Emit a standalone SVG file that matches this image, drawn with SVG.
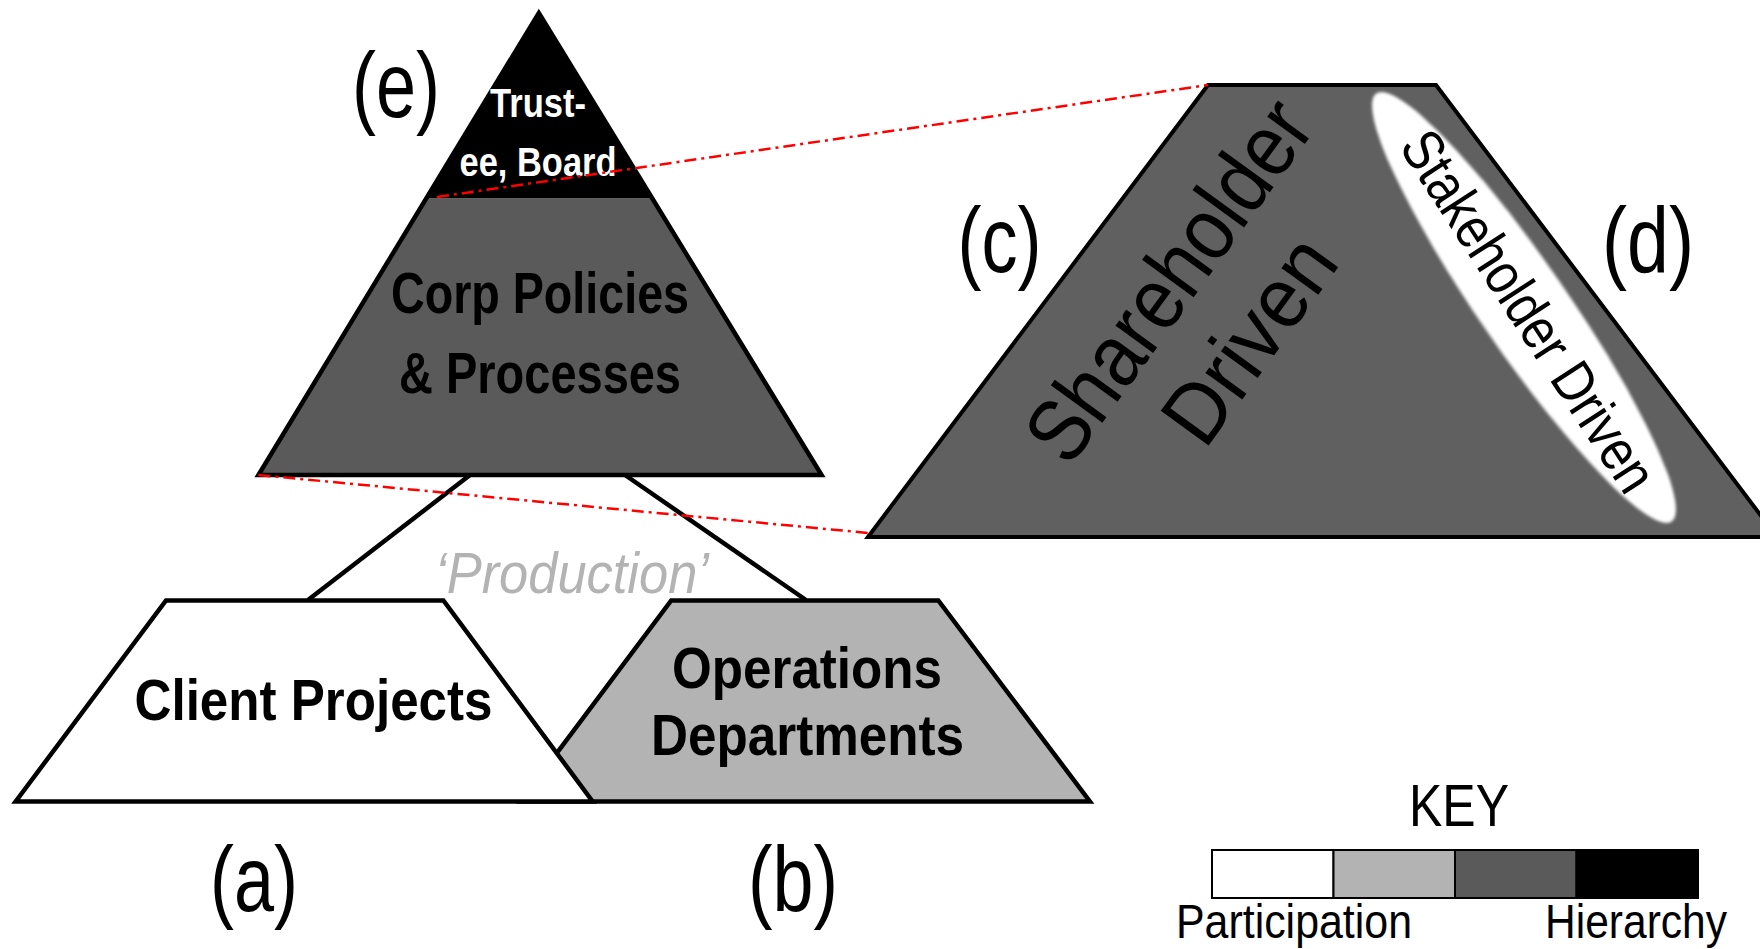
<svg xmlns="http://www.w3.org/2000/svg" width="1760" height="949" viewBox="0 0 1760 949">
<defs>
<style>
.t{font-family:'Liberation Sans Narrow','Liberation Sans',Arial,sans-serif;fill:#000}
.lab{font-size:92px;text-anchor:middle}
.b{font-weight:bold;text-anchor:middle}
.edge{stroke:#000;stroke-width:4.5;stroke-linejoin:miter}
.conn{stroke:#000;stroke-width:4.5;fill:none}
.red{stroke:#ff0000;stroke-width:2.5;fill:none;stroke-dasharray:12 5 3 5}
.keycell{stroke:#000;stroke-width:2}
</style>
<filter id="soft" x="-10%" y="-10%" width="120%" height="120%"><feGaussianBlur stdDeviation="1.5"/></filter>
</defs>
<rect width="1760" height="949" fill="#fff"/>

<g id="connectors-tree">
<line class="conn" x1="470" y1="475" x2="308" y2="600"/>
<line class="conn" x1="625" y1="475" x2="806" y2="600"/>
</g>

<g id="node-pyramid">
<polygon points="425.6,198.3 653,198.3 821.6,475 258.4,475" fill="#5a5a5a"/>
<polygon points="538.8,13 653,198.3 425.6,198.3" fill="#000"/>
<polygon class="edge" points="538.8,13 821.6,475 258.4,475" fill="none"/>
<text class="t b" x="538" y="117" font-size="40" style="fill:#fff" textLength="96" lengthAdjust="spacingAndGlyphs">Trust-</text>
<text class="t b" x="538" y="176" font-size="40" style="fill:#fff" textLength="157" lengthAdjust="spacingAndGlyphs">ee, Board</text>
<text class="t b" x="540" y="313" font-size="57" textLength="298" lengthAdjust="spacingAndGlyphs">Corp Policies</text>
<text class="t b" x="540" y="393" font-size="57" textLength="282" lengthAdjust="spacingAndGlyphs">&amp; Processes</text>
</g>

<g id="node-production-label">
<text class="t" x="572" y="593" font-size="58" font-style="italic" text-anchor="middle" style="fill:#b3b3b3" textLength="274" lengthAdjust="spacingAndGlyphs">‘Production’</text>
</g>

<g id="node-operations">
<polygon class="edge" points="671.2,600.5 938.3,600.5 1089.9,801.4 520.6,801.4" fill="#b3b3b3"/>
<text class="t b" x="807" y="688" font-size="58" textLength="270" lengthAdjust="spacingAndGlyphs">Operations</text>
<text class="t b" x="807.5" y="755" font-size="58" textLength="313" lengthAdjust="spacingAndGlyphs">Departments</text>
</g>

<g id="node-client">
<polygon class="edge" points="166,600.5 443.4,600.5 592.6,801.4 15.7,801.4" fill="#fff"/>
<text class="t b" x="313.5" y="720" font-size="58" textLength="358" lengthAdjust="spacingAndGlyphs">Client Projects</text>
</g>

<g id="node-governance">
<polygon points="1208,85 1436,85 1777,537 868,537" fill="#606060" stroke="#000" stroke-width="4"/>
<ellipse cx="1524" cy="307.5" rx="260" ry="44" transform="rotate(55.4 1524 307.5)" fill="#fff" filter="url(#soft)"/>
<text class="t" font-size="88" text-anchor="middle" transform="translate(1193 298) rotate(-54)" textLength="422" lengthAdjust="spacingAndGlyphs">Shareholder</text>
<text class="t" font-size="86" text-anchor="middle" transform="translate(1273 357) rotate(-54)" textLength="232" lengthAdjust="spacingAndGlyphs">Driven</text>
<text class="t" font-size="58" text-anchor="middle" transform="translate(1512 322) rotate(57)" textLength="418" lengthAdjust="spacingAndGlyphs">Stakeholder Driven</text>
</g>

<g id="connectors-zoom">
<line class="red" x1="437" y1="197" x2="1208" y2="85"/>
<line class="red" x1="258.4" y1="475" x2="868" y2="533"/>
</g>

<g id="labels">
<text class="t lab" x="396" y="117" textLength="88" lengthAdjust="spacingAndGlyphs">(e)</text>
<text class="t lab" x="254" y="911" textLength="88" lengthAdjust="spacingAndGlyphs">(a)</text>
<text class="t lab" x="793" y="911" textLength="90" lengthAdjust="spacingAndGlyphs">(b)</text>
<text class="t lab" x="999.5" y="272" textLength="84" lengthAdjust="spacingAndGlyphs">(c)</text>
<text class="t lab" x="1648" y="272" textLength="92" lengthAdjust="spacingAndGlyphs">(d)</text>
</g>

<g id="key">
<text class="t" x="1459" y="826" font-size="60" text-anchor="middle" textLength="100" lengthAdjust="spacingAndGlyphs">KEY</text>
<rect class="keycell" x="1212" y="850" width="121.5" height="48" fill="#fff"/>
<rect class="keycell" x="1333.5" y="850" width="121.5" height="48" fill="#b3b3b3"/>
<rect class="keycell" x="1455" y="850" width="121.5" height="48" fill="#5a5a5a"/>
<rect class="keycell" x="1576.5" y="850" width="121.5" height="48" fill="#000"/>
<text class="t" x="1176" y="938" font-size="48" textLength="236" lengthAdjust="spacingAndGlyphs">Participation</text>
<text class="t" x="1545" y="938" font-size="48" textLength="182" lengthAdjust="spacingAndGlyphs">Hierarchy</text>
</g>
</svg>
